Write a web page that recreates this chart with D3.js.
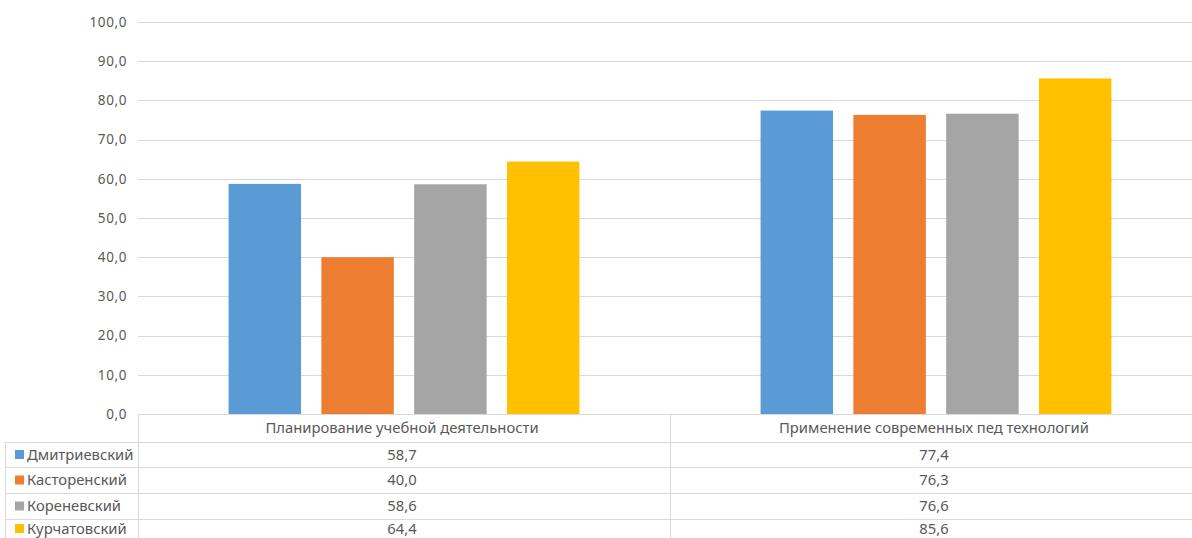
<!DOCTYPE html>
<html><head><meta charset="utf-8">
<script src="https://cdn.jsdelivr.net/npm/d3@7"></script>
<style>body{margin:0;background:#fff;} svg{display:block;}</style>
</head><body>
<svg id="c" width="1192" height="538"></svg>
<script>
const categories = ["Планирование учебной деятельности", "Применение современных пед технологий"];
const seriesNames = ["Дмитриевский", "Касторенский", "Кореневский", "Курчатовский"];
const dmitrievsky = [58.7, 77.4];
const kastorensky = [40.0, 76.3];
const korenevsky = [58.6, 76.6];
const kurchatovsky = [64.4, 85.6];
const yTicks = [0, 10, 20, 30, 40, 50, 60, 70, 80, 90, 100];
const colors = ["#5B9BD5", "#ED7D31", "#A5A5A5", "#FFC000"];
const values = [dmitrievsky, kastorensky, korenevsky, kurchatovsky];

(function () {
const svg = d3.select("#c");
const font = "'Noto Sans', sans-serif";
const textColor = "#595959";
const gridColor = "#d9d9d9";
const tblFont = "14.8px";

const pLeft = 138, pRight = 1202, pTop = 22, pBottom = 414;
const x0 = d3.scaleBand().domain(categories).range([pLeft, pRight]);
const x1 = d3.scaleBand().domain(seriesNames).range([0, x0.bandwidth()]).paddingInner(0.219).paddingOuter(0.976);
const y = d3.scaleLinear().domain([0, 100]).range([pBottom, pTop]);
const fmt = v => d3.format(".1f")(v).replace(".", ",");

svg.append("g").selectAll("line").data(yTicks.filter(t => t > 0)).join("line")
  .attr("x1", pLeft).attr("x2", 1192)
  .attr("y1", d => Math.round(y(d)) + 0.5).attr("y2", d => Math.round(y(d)) + 0.5)
  .attr("stroke", gridColor).attr("stroke-width", 1);

const yAxis = d3.axisLeft(y).tickValues(yTicks).tickFormat(fmt).tickSize(0).tickPadding(11);
const ga = svg.append("g").attr("transform", `translate(${pLeft},0)`).call(yAxis);
ga.select(".domain").remove();
ga.selectAll("text").attr("fill", textColor).style("font-family", font).style("font-size", "13.5px").attr("letter-spacing", "0.6px");

const g = svg.append("g");
seriesNames.forEach((s, si) => {
  g.append("g").selectAll("rect").data(categories).join("rect")
    .attr("x", (c) => x0(c) + x1(s))
    .attr("width", x1.bandwidth())
    .attr("y", (c, ci) => y(values[si][ci]))
    .attr("height", (c, ci) => y(0) - y(values[si][ci]))
    .attr("fill", colors[si]);
});

const rowLines = [442, 467, 493, 519];
const tbl = svg.append("g");
tbl.append("line").attr("x1", pLeft).attr("x2", 1192).attr("y1", pBottom + 0.5).attr("y2", pBottom + 0.5).attr("stroke", gridColor);
rowLines.forEach(yy => {
  tbl.append("line").attr("x1", 5).attr("x2", 1192).attr("y1", yy + 0.5).attr("y2", yy + 0.5).attr("stroke", gridColor);
});
tbl.append("line").attr("x1", pLeft + 0.5).attr("x2", pLeft + 0.5).attr("y1", pBottom).attr("y2", 538).attr("stroke", gridColor);
tbl.append("line").attr("x1", 5.5).attr("x2", 5.5).attr("y1", rowLines[0]).attr("y2", 538).attr("stroke", gridColor);
const midX = Math.round(x0(categories[1])) + 0.5;
tbl.append("line").attr("x1", midX).attr("x2", midX).attr("y1", pBottom).attr("y2", 538).attr("stroke", gridColor);

tbl.selectAll("text.hdr").data(categories).join("text").attr("class", "hdr")
  .attr("x", d => x0(d) + x0.bandwidth() / 2 - 2)
  .attr("y", (pBottom + rowLines[0]) / 2 + 5)
  .attr("text-anchor", "middle").attr("fill", textColor)
  .style("font-family", font).style("font-size", tblFont).text(d => d);

const rowH = [25, 26, 26, 19];
seriesNames.forEach((s, si) => {
  const cy = rowLines[si] + rowH[si] / 2;
  tbl.append("rect").attr("x", 15).attr("y", cy - 4.5).attr("width", 9).attr("height", 9).attr("fill", colors[si]);
  tbl.append("text").attr("x", 27).attr("y", cy + 5).attr("fill", textColor)
    .style("font-family", font).style("font-size", tblFont).text(s);
  tbl.append("g").selectAll("text").data(categories).join("text")
    .attr("x", c => x0(c) + x0.bandwidth() / 2 - 2)
    .attr("y", cy + 5)
    .attr("text-anchor", "middle").attr("fill", textColor)
    .style("font-family", font).style("font-size", tblFont)
    .text((c, ci) => fmt(values[si][ci]));
});
})();
</script>
</body></html>
